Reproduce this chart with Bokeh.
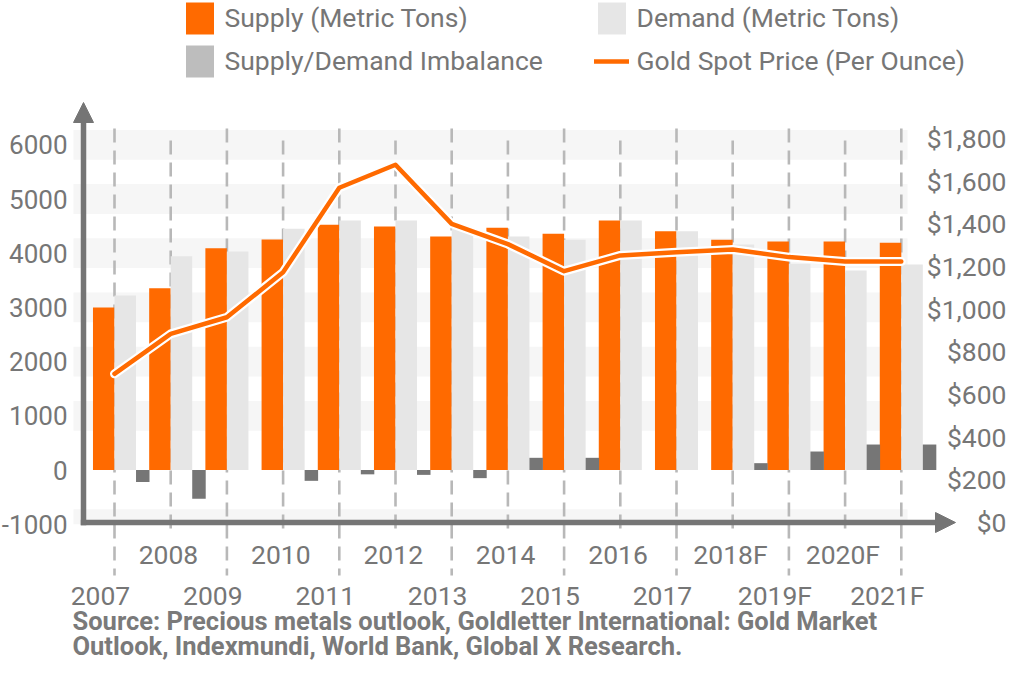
import numpy as np
from bokeh.plotting import figure
from bokeh.models import Range1d, Legend, LegendItem, Arrow, NormalHead
from bokeh.core.properties import value
from bokeh.embed import file_html
from bokeh.resources import INLINE

# ---------------- data ----------------
years = ["2007", "2008", "2009", "2010", "2011", "2012", "2013", "2014",
         "2015", "2016", "2017", "2018F", "2019F", "2020F", "2021F"]
supply = [3000, 3355, 4093, 4253, 4524, 4493, 4308, 4469, 4358, 4603, 4406,
          4247, 4216, 4216, 4191]
demand = [3220, 3945, 4031, 4450, 4603, 4603, 4450, 4308, 4247, 4603, 4406,
          4160, 3804, 3680, 3791]
imbalance = [-220, -530, 0, -200, -80, -90, -150, 225, 225, 0, 0, 126, 341,
             470, 470]
price = [697, 884, 962, 1173, 1569, 1677, 1400, 1305, 1178, 1252, 1267, 1280,
         1244, 1223, 1223]

left_ticks = [-1000, 0, 1000, 2000, 3000, 4000, 5000, 6000]
left_tick_labels = ["-1000", "0", "1000", "2000", "3000", "4000", "5000", "6000"]
price_ticks = [0, 200, 400, 600, 800, 1000, 1200, 1400, 1600, 1800]
price_tick_labels = ["$0", "$200", "$400", "$600", "$800", "$1,000", "$1,200",
                     "$1,400", "$1,600", "$1,800"]
band_levels = [6000, 5000, 4000, 3000, 2000, 1000, -1000]
source_lines = ["Source: Precious metals outlook, Goldletter International: Gold Market",
                "Outlook, Indexmundi, World Bank, Global X Research."]

# ---------------- geometry / style ----------------
W, H = 1008, 662
CAT0 = 114.0          # px of first category line
CATW = 56.2           # px per category
ZERO_Y = 469.5        # px of value 0 (left scale)
PX_PER_UNIT = 0.0542
PRICE0_Y = 522.0      # px of $0
PX_PER_DOLLAR = 384.0 / 1800.0


def xd(px):
    return (px - CAT0) / CATW


def yd(py):
    return (ZERO_Y - py) / PX_PER_UNIT


def pdl(py):
    return (PRICE0_Y - py) / PX_PER_DOLLAR


ORANGE = "#ff6a00"
DEMAND = "#e6e6e6"
IMB = "#767676"
IMB_LEG = "#bdbdbd"
BAND = "#f6f6f6"
DASH = "#b8b8b8"
AXIS = "#757575"
TEXT = "#767676"
FONT = "Roboto"
FS = "26.5px"

idx = np.arange(len(years))

p = figure(width=W, height=H, output_backend="svg", toolbar_location=None,
           x_range=Range1d(xd(0), xd(W)), y_range=Range1d(yd(H), yd(0)),
           x_axis_location=None, y_axis_location=None,
           min_border_left=0, min_border_right=0, min_border_top=0,
           min_border_bottom=0)
p.extra_y_ranges = {"price": Range1d(pdl(H), pdl(0))}
p.outline_line_color = None
p.grid.visible = False
p.background_fill_color = "white"
p.border_fill_color = "white"

# background bands
band_top = [v + 275 for v in band_levels]
band_bot = [max(v - 275, -1000) for v in band_levels]
p.quad(left=xd(73), right=xd(907), bottom=band_bot, top=band_top,
       fill_color=BAND, line_color=None)

# dashed category lines
ev = idx[idx % 2 == 0]
od = idx[idx % 2 == 1]
p.segment(x0=ev, x1=ev, y0=yd(128), y1=yd(575), line_color=DASH,
          line_width=2.6, line_dash="14 8")
p.segment(x0=od, x1=od, y0=yd(140), y1=yd(533), line_color=DASH,
          line_width=2.6, line_dash="14 8")

# bars
BW = 0.383
sup_r = p.vbar(x=idx - BW / 2, top=supply, bottom=0, width=BW,
               fill_color=ORANGE, line_color=None)
dem_r = p.vbar(x=idx + BW / 2, top=demand, bottom=0, width=BW,
               fill_color=DEMAND, line_color=None)
p.vbar(x=idx + BW + 0.12, top=imbalance, bottom=0, width=0.24,
       fill_color=IMB, line_color=None)
imb_leg = p.vbar(x=idx + BW + 0.12, top=imbalance, bottom=imbalance, width=0.24,
                 fill_color=IMB_LEG, line_color=None)

# price line
wl = p.line(x=idx, y=price, y_range_name="price", line_color="white",
            line_width=9, line_join="round", line_cap="round")
ol = p.line(x=idx, y=price, y_range_name="price", line_color=ORANGE,
            line_width=4.5, line_join="round", line_cap="round")

# axis arrows
p.add_layout(Arrow(end=NormalHead(size=20, fill_color=AXIS, line_color=AXIS),
                   x_start=xd(80.3), y_start=0, x_end=xd(955), y_end=0,
                   y_range_name="price", line_color=AXIS, line_width=5.5))
p.add_layout(Arrow(end=NormalHead(size=20, fill_color=AXIS, line_color=AXIS),
                   x_start=xd(83), y_start=pdl(524.75), x_end=xd(83),
                   y_end=pdl(102), y_range_name="price", line_color=AXIS,
                   line_width=5.5))

# left tick labels
p.text(x=xd(67), y=left_ticks, text=left_tick_labels,
       text_align="right", text_baseline="middle", text_color=TEXT,
       text_font=value(FONT), text_font_size="26px")

# category labels (staggered)
p.text(x=od - 0.04, y=yd(554), text=[years[i] for i in od],
       text_align="center", text_baseline="middle", text_color=TEXT,
       text_font=value(FONT), text_font_size=FS)
p.text(x=ev - 0.25, y=yd(595), text=[years[i] for i in ev],
       text_align="center", text_baseline="middle", text_color=TEXT,
       text_font=value(FONT), text_font_size=FS)

# price tick labels (right)
p.text(x=xd(1006), y=price_ticks, text=price_tick_labels, y_range_name="price",
       text_align="right", text_baseline="middle", text_color=TEXT,
       text_font=value(FONT), text_font_size=FS)

# source note
p.text(x=xd(72), y=[yd(620), yd(645)], text=source_lines,
       text_align="left", text_baseline="middle", text_color="#7a7a7a",
       text_font=value(FONT), text_font_size="25.5px", text_font_style="bold")

legend = Legend(items=[
    LegendItem(label="Supply (Metric Tons)", renderers=[sup_r]),
    LegendItem(label="Demand (Metric Tons)", renderers=[dem_r]),
    LegendItem(label="Supply/Demand Imbalance", renderers=[imb_leg]),
    LegendItem(label="Gold Spot Price (Per Ounce)", renderers=[wl, ol]),
], location=(181.5, 581.5), orientation="horizontal", ncols=2,
    glyph_width=35, glyph_height=40, label_standoff=8, spacing=3, padding=0,
    margin=0, border_line_color=None, background_fill_alpha=0,
    label_text_font=FONT, label_text_font_size=FS, label_text_color=TEXT,
    label_width=366, label_height=40)
p.add_layout(legend)

open("out.html", "w").write(file_html(p, INLINE))
